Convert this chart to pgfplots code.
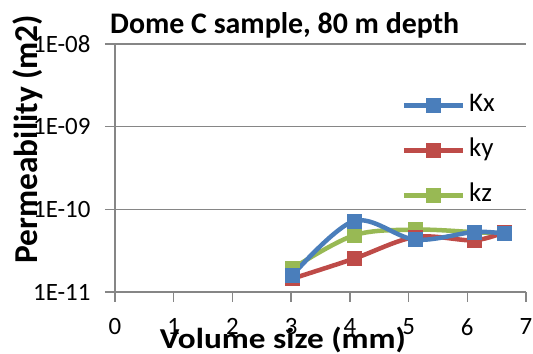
\documentclass[border=0pt]{standalone}
\usepackage{pgfplots}
\pgfplotsset{compat=1.18}
\usepackage{fontspec}
\setmainfont{Carlito}
\definecolor{cblue}{HTML}{4A7EBB}
\definecolor{cred}{HTML}{BE4B48}
\definecolor{cgreen}{HTML}{98B954}
\definecolor{gridgray}{HTML}{868686}
\begin{document}
\begin{tikzpicture}
\useasboundingbox (0,0) rectangle (533bp,354bp);
\begin{axis}[
  at={(115bp,62bp)}, anchor=south west,
  scale only axis, width=411bp, height=248bp,
  xmin=0, xmax=7, ymode=log, ymin=1e-11, ymax=1e-8,
  axis x line*=bottom, axis y line*=left,
  axis line style={gridgray, line width=1.3bp},
  xtick={0,1,2,3,4,5,6,7},
  ytick={1e-11,1e-10,1e-9,1e-8},
  yticklabels={1E-11,1E-10,1E-09,1E-08},
  yminorticks=false,
  ymajorgrids, grid style={gridgray, line width=1.3bp},
  tick style={gridgray, line width=1.3bp},
  tick align=outside, major tick length=10bp,
  /pgf/number format/assume math mode=true,
  ticklabel style={font=\fontsize{25}{25}\selectfont, text=black},
  xticklabel style={anchor=north, yshift=-13bp},
  yticklabel style={anchor=east, xshift=-11bp},
  legend style={draw=none, fill=none, inner sep=0pt,
    at={(0.697,0.812)}, anchor=north west,
    font=\fontsize{27}{27}\selectfont, row sep=16bp,
    nodes={inner xsep=4bp, inner ysep=2bp, text height=19bp, text depth=6bp}},
  legend cell align=left,
  reverse legend,
  legend image code/.code={\draw[mark repeat=2,mark phase=2] plot coordinates {(0bp,0bp) (29.5bp,0bp) (59bp,0bp)};},
  every axis plot/.append style={line width=4.5bp, mark=square*, mark size=7bp, smooth, tension=0.55},
  clip=false,
]
\addplot[cgreen, mark options={solid, line width=0.4bp, fill=cgreen, draw=cgreen}] coordinates {
  (3.02,1.92e-11) (4.07,4.85e-11) (5.11,5.68e-11) (6.11,5.3e-11) (6.63,5.08e-11)};
\addlegendentry{kz}
\addplot[cred, mark options={solid, line width=0.4bp, fill=cred, draw=cred}] coordinates {
  (3.02,1.45e-11) (4.07,2.53e-11) (5.11,4.63e-11) (6.11,4.22e-11) (6.63,5.32e-11)};
\addlegendentry{ky}
\addplot[cblue, mark options={solid, line width=0.4bp, fill=cblue, draw=cblue}] coordinates {
  (3.02,1.59e-11) (4.07,7.22e-11) (5.11,4.30e-11) (6.11,5.32e-11) (6.63,5.08e-11)};
\addlegendentry{Kx}
\end{axis}
\node[anchor=base west, inner sep=0pt, font=\bfseries\fontsize{30}{30}\selectfont] at (110bp,320bp) {Dome C sample, 80 m depth};
\node[anchor=base, inner sep=0pt, xscale=1.15, font=\bfseries\fontsize{29}{29}\selectfont] at (283bp,6bp) {Volume size (mm)};
\node[rotate=90, anchor=base, inner sep=0pt, font=\bfseries\fontsize{33.5}{33.5}\selectfont] at (37bp,215bp) {Permeability (m2)};
\end{tikzpicture}
\end{document}
